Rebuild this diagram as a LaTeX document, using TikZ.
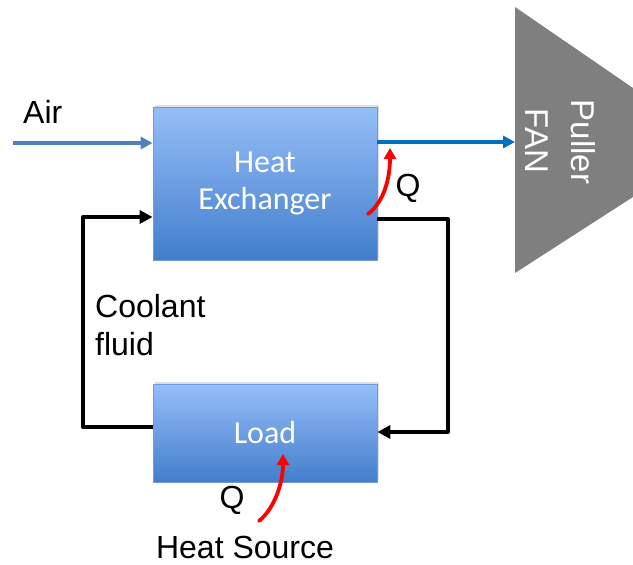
\documentclass[tikz,border=0pt]{standalone}
\usepackage{fontspec}
\setmainfont{Liberation Sans}
\newfontfamily\boxfont{Carlito}
\usetikzlibrary{arrows.meta,shadows}
\definecolor{airblue}{RGB}{79,129,189}
\definecolor{outblue}{RGB}{0,112,192}
\definecolor{boxtop}{RGB}{150,190,248}
\definecolor{boxbot}{RGB}{66,126,204}
\definecolor{boxedge}{RGB}{110,155,215}
\definecolor{fangray}{RGB}{127,127,127}
\tikzset{
  blockbox/.style={rectangle, draw=boxedge, line width=0.8pt, top color=boxtop, bottom color=boxbot,
    text=white, font=\boxfont\fontsize{32}{37}\selectfont, align=center, inner sep=0pt,
    drop shadow={opacity=0.25, shadow xshift=1.5pt, shadow yshift=2pt}},
  lbl/.style={font=\fontsize{32}{38}\selectfont, text=black, inner sep=0pt},
  fanlbl/.style={font=\fontsize{33}{37}\selectfont, text=white, inner sep=0pt, rotate=-90},
  loopline/.style={line width=4pt, black, line join=round, -{Triangle[length=13pt,width=13pt]}},
  airline/.style={line width=3.8pt, -{Triangle[length=12pt,width=12pt]}},
  heatline/.style={line width=3.8pt, red, line cap=round, -{Triangle[length=11pt,width=12pt]}}
}
\begin{document}
\begin{tikzpicture}[x=1pt,y=-1pt]
\useasboundingbox (0,0) rectangle (633,565);
% fan
\fill[fangray] (515,7) -- (633,88) -- (633,197) -- (515,273) -- cycle;
\node[fanlbl] (puller) at (583,142) {Puller};
\node[fanlbl] (fan) at (537,141) {FAN};
\coordinate (fanin) at (515,142);
% boxes
\node[blockbox, minimum width=224pt, minimum height=153pt] (hx) at (265,183.5) {Heat\\Exchanger};
\node[blockbox, minimum width=224pt, minimum height=98pt] (ld) at (265,433) {Load};
% air
\node[lbl, anchor=base west] (air) at (23,123) {Air};
\coordinate (airin) at (13,143);
\draw[airline, airblue] (airin) -- (hx.west |- airin);
\draw[airline, outblue] (hx.east |- fanin) -- (fanin);
% coolant loop
\coordinate (c1) at (448,219);
\coordinate (c2) at (448,432);
\coordinate (c3) at (83,427);
\coordinate (c4) at (83,217);
\draw[loopline] (hx.east |- c1) -- (c1) -- (c2) -- (ld.east |- c2);
\draw[loopline] (ld.west |- c3) -- (c3) -- (c4) -- (hx.west |- c4);
\node[lbl, anchor=base west] (coolant) at (95,317) {Coolant};
\node[lbl, anchor=base west] (fluid) at (95,355) {fluid};
% heat flows
\coordinate (q1s) at (368,214);
\coordinate (q1e) at (390,148);
\draw[heatline] (q1s) .. controls (384,202) and (390,178) .. (q1e);
\node[lbl] (q1) at (408,188) {Q};
\coordinate (q2s) at (259,521);
\coordinate (q2e) at (283,454);
\draw[heatline] (q2s) .. controls (275,508) and (283,482) .. (q2e);
\node[lbl] (q2) at (232,500) {Q};
\node[lbl, anchor=base] (src) at (245,558) {Heat Source};
\end{tikzpicture}
\end{document}
